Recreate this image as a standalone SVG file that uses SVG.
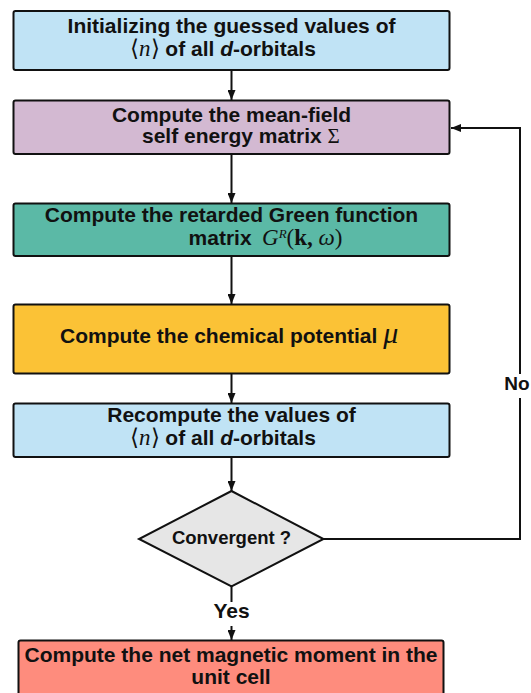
<svg xmlns="http://www.w3.org/2000/svg" width="531" height="693" viewBox="0 0 531 693">
<defs>
<marker id="ah" markerWidth="10" markerHeight="8" refX="10" refY="4" orient="auto" markerUnits="userSpaceOnUse">
<path d="M0,0 L10,4 L0,8 Z" fill="#111"/>
</marker>
<style>
.box{stroke:#111;stroke-width:2}
.t{font-family:"Liberation Sans",Arial,sans-serif;font-weight:bold;font-size:21px;fill:#111}
.m{font-family:"Liberation Serif","Times New Roman",serif;font-weight:normal}
.c{stroke:#111;stroke-width:2;fill:none}
</style>
</defs>
<rect width="531" height="693" fill="#fff"/>
<g id="connectors">
<line class="c" x1="231.5" y1="70" x2="231.5" y2="100" marker-end="url(#ah)"/>
<line class="c" x1="231.5" y1="154" x2="231.5" y2="203" marker-end="url(#ah)"/>
<line class="c" x1="231.5" y1="256" x2="231.5" y2="304" marker-end="url(#ah)"/>
<line class="c" x1="231.5" y1="373.5" x2="231.5" y2="403" marker-end="url(#ah)"/>
<line class="c" x1="231.5" y1="457" x2="231.5" y2="491" marker-end="url(#ah)"/>
<line class="c" x1="231.5" y1="586" x2="231.5" y2="602"/>
<line class="c" x1="231.5" y1="626" x2="231.5" y2="640" marker-end="url(#ah)"/>
<polyline class="c" points="323.5,539 520,539 520,398"/>
<polyline class="c" points="520,374 520,128 451,128" marker-end="url(#ah)"/>
<text class="t" x="231.5" y="617.5" text-anchor="middle" font-size="20">Yes</text>
<text class="t" x="517" y="390" text-anchor="middle" style="font-size:19px">No</text>
</g>
<g id="n1">
<rect class="box" x="13.5" y="11" width="436" height="59" rx="2" fill="#c0e3f5"/>
<text class="t" x="231.5" y="33" text-anchor="middle">Initializing the guessed values of</text>
<text class="t" x="130" y="56"><tspan class="m" font-size="23">⟨<tspan font-style="italic">n</tspan>⟩</tspan> of all <tspan font-style="italic">d</tspan>-orbitals</text>
</g>
<g id="n2">
<rect class="box" x="13.5" y="100.5" width="436" height="53.5" rx="2" fill="#d3b9d2"/>
<text class="t" x="231.5" y="121.5" text-anchor="middle">Compute the mean-field</text>
<text class="t" x="142" y="143">self energy matrix <tspan class="m">Σ</tspan></text>
</g>
<g id="n3">
<rect class="box" x="13.5" y="203.5" width="436" height="52.5" rx="2" fill="#5bb9a6"/>
<text class="t" x="231.5" y="222" text-anchor="middle">Compute the retarded Green function</text>
<text class="t" x="188.6" y="245">matrix</text>
<text class="m" x="262" y="245" font-size="23" fill="#111"><tspan font-style="italic">G</tspan><tspan font-style="italic" font-size="13" dy="-7">R</tspan><tspan dy="7">(</tspan><tspan font-weight="bold">k</tspan><tspan font-weight="bold">,</tspan> <tspan font-style="italic">ω</tspan>)</text>
</g>
<g id="n4">
<rect class="box" x="13.5" y="304.5" width="436" height="69" rx="2" fill="#fbc236"/>
<text class="t" x="60" y="342.5">Compute the chemical potential <tspan class="m" font-style="italic" font-size="30">μ</tspan></text>
</g>
<g id="n5">
<rect class="box" x="13.5" y="403.5" width="436" height="53.5" rx="2" fill="#c0e3f5"/>
<text class="t" x="231.5" y="422.3" text-anchor="middle">Recompute the values of</text>
<text class="t" x="130" y="445"><tspan class="m" font-size="23">⟨<tspan font-style="italic">n</tspan>⟩</tspan> of all <tspan font-style="italic">d</tspan>-orbitals</text>
</g>
<g id="n6">
<polygon class="box" points="231.5,491 323.5,539 231.5,586.5 139,539" fill="#e6e6e6"/>
<text class="t" x="231.5" y="544" text-anchor="middle" style="font-size:18.5px">Convergent ?</text>
</g>
<g id="n7">
<rect class="box" x="18.5" y="640.5" width="425" height="62" rx="2" fill="#fe8c7d"/>
<text class="t" x="231" y="661.6" text-anchor="middle">Compute the net magnetic moment in the</text>
<text class="t" x="231" y="683.6" text-anchor="middle">unit cell</text>
</g>
</svg>
